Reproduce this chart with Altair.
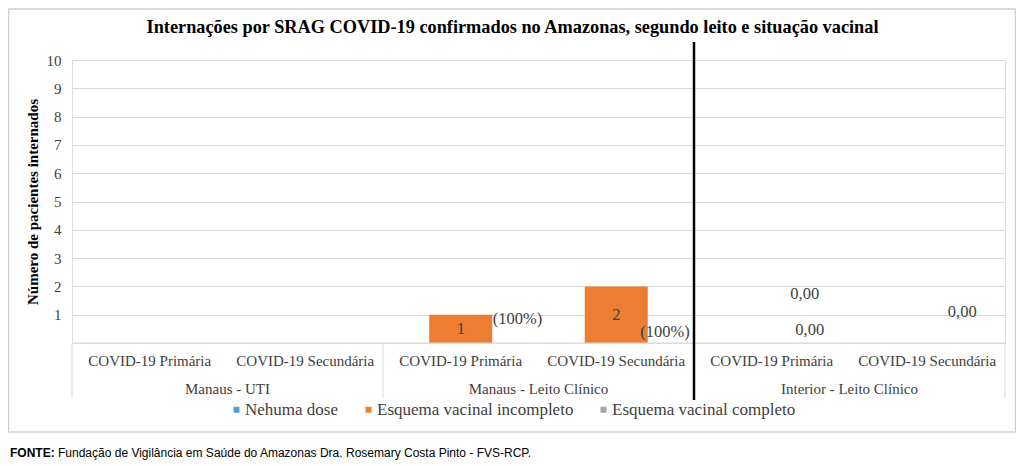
import altair as alt
import pandas as pd

# ---- data ----
groups = ["Manaus - UTI", "Manaus - UTI",
          "Manaus - Leito Clínico", "Manaus - Leito Clínico",
          "Interior - Leito Clínico", "Interior - Leito Clínico"]
subs = ["COVID-19 Primária", "COVID-19 Secundária"] * 3
series = ["Nehuma dose", "Esquema vacinal incompleto", "Esquema vacinal completo"]
nenhuma = [0, 0, 0, 0, 0, 0]
incompleto = [0, 0, 1, 2, 0, 0]
completo = [0, 0, 0, 0, 0, 0]
pct_labels = ["", "", "(100%)", "(100%)", "", ""]
zero_labels = ["0,00", "0,00", "0,00"]
y_ticks = [1, 2, 3, 4, 5, 6, 7, 8, 9, 10]
colors = ["#5B9BD5", "#ED7D31", "#A5A5A5"]
title_text = "Internações por SRAG COVID-19 confirmados no Amazonas, segundo leito e situação vacinal"
y_title = "Número de pacientes internados"
fonte_bold = "FONTE:"
fonte_text = "Fundação de Vigilância em Saúde do Amazonas Dra. Rosemary Costa Pinto - FVS-RCP."

# ---- tables ----
keys = [g + " | " + s for g, s in zip(groups, subs)]
cat_df = pd.DataFrame({"key": keys, "group": groups, "sub": subs,
                       "inc": incompleto, "pct": pct_labels})
rows = []
for i, k in enumerate(keys):
    for s, vals in zip(series, [nenhuma, incompleto, completo]):
        rows.append({"key": k, "series": s, "value": vals[i]})
bar_df = pd.DataFrame(rows)

W, H = 933, 283
SERIF = "Liberation Serif"
TXT = "#404040"
GRID = "#D9D9D9"

xscale = alt.Scale(domain=keys, paddingInner=0, paddingOuter=0)
yscale = alt.Scale(domain=[0, 10], nice=False)
yaxis = alt.Axis(values=y_ticks, grid=True, gridColor=GRID, domain=False,
                 ticks=False, labelFont=SERIF, labelFontSize=15,
                 labelColor=TXT, labelPadding=11, title=y_title,
                 titleFont=SERIF, titleFontSize=15, titleFontWeight="bold",
                 titleColor="#000000", titleX=-40, titleY=H / 2,
                 titleAngle=270, titleBaseline="middle", titleAlign="center")


def X(band=None):
    if band is None:
        return alt.X("key:N", scale=xscale, axis=None)
    return alt.X("key:N", scale=xscale, axis=None, bandPosition=band)


def Y(field):
    return alt.Y(field, scale=yscale, axis=yaxis, title=y_title)


bars = alt.Chart(bar_df).mark_bar(size=63).encode(
    x=X(),
    xOffset=alt.XOffset("series:N", scale=alt.Scale(domain=series)),
    y=Y("value:Q"),
    color=alt.Color("series:N", scale=alt.Scale(domain=series, range=colors),
                    legend=alt.Legend(orient="none", legendX=156, legendY=341,
                                      direction="horizontal", title=None,
                                      symbolType="square", symbolSize=36,
                                      symbolStrokeWidth=0, labelFont=SERIF,
                                      labelFontSize=17, labelColor=TXT,
                                      labelLimit=400,
                                      labelOffset=0, columnPadding=21, padding=0)),
)

# baseline of the category box
base_rule = alt.Chart(cat_df.head(1)).transform_calculate(zero="0").mark_rule(
    color=GRID, strokeWidth=1).encode(
    y=Y("zero:Q"), x=alt.value(0), x2=alt.value(W))

# separators of category groups
group_starts = cat_df[cat_df["sub"] == subs[0]]
sep = alt.Chart(group_starts).mark_rule(color=GRID, strokeWidth=1).encode(
    x=X(0), y=alt.value(H), y2=alt.value(H + 55))
sep_end = alt.Chart(cat_df.tail(1)).mark_rule(color=GRID, strokeWidth=1).encode(
    x=X(1), y=alt.value(H), y2=alt.value(H + 55))

# thick black divider
divider = alt.Chart(cat_df[cat_df["key"] == keys[4]]).mark_rule(
    color="#000000", strokeWidth=2.5).encode(
    x=X(0), y=alt.value(-18), y2=alt.value(H + 57))

sub_labels = alt.Chart(cat_df).mark_text(
    font=SERIF, fontSize=15, color=TXT, baseline="middle").encode(
    x=X(), y=alt.value(H + 18), text="sub:N")

group_labels = alt.Chart(cat_df[cat_df["sub"] == subs[1]]).mark_text(
    font=SERIF, fontSize=15, color=TXT, baseline="middle").encode(
    x=X(0), y=alt.value(H + 46), text="group:N")

val_labels = alt.Chart(cat_df[cat_df["inc"] > 0]).transform_calculate(
    mid="datum.inc / 2").mark_text(
    font=SERIF, fontSize=16.5, color=TXT, baseline="middle").encode(
    x=X(), y=Y("mid:Q"), text="inc:Q")

pct_offsets = [(32, 4), (24, 46)]
pct_layers = []
for k, (ddx, ddy) in zip([keys[2], keys[3]], pct_offsets):
    pct_layers.append(
        alt.Chart(cat_df[cat_df["key"] == k]).mark_text(
            font=SERIF, fontSize=16.5, color=TXT, align="left", baseline="middle",
            dx=ddx, dy=ddy).encode(
            x=X(), y=Y("inc:Q"), text="pct:N"))

zero_keys = [keys[4], keys[4], keys[5]]
zero_offsets = [(33, -49), (38, -13), (35, -31)]
zero_layers = []
for k, lab, (ddx, ddy) in zip(zero_keys, zero_labels, zero_offsets):
    zdf = cat_df[cat_df["key"] == k].assign(lab=lab)
    zero_layers.append(
        alt.Chart(zdf).mark_text(
            font=SERIF, fontSize=16.5, color=TXT, baseline="middle",
            dx=ddx, dy=ddy).encode(
            x=X(), y=Y("inc:Q"), text="lab:N"))

one = pd.DataFrame({"t": [title_text], "fb": [fonte_bold], "ft": [fonte_text]})

title = alt.Chart(one).mark_text(
    font=SERIF, fontSize=18.3, fontWeight="bold", color="#000000",
    baseline="alphabetic", align="center").encode(
    x=alt.value(440.5), y=alt.value(-27), text="t:N")

foot1 = alt.Chart(one).mark_text(
    font="Liberation Sans", fontSize=12, fontWeight="bold", color="#000000",
    baseline="alphabetic", align="left").encode(
    x=alt.value(-62), y=alt.value(397), text="fb:N")
foot2 = alt.Chart(one).mark_text(
    font="Liberation Sans", fontSize=12, color="#000000",
    baseline="alphabetic", align="left").encode(
    x=alt.value(-14), y=alt.value(397), text="ft:N")

frame = alt.Chart(one).mark_rect(fillOpacity=0, stroke="#D0D0D0", strokeWidth=1.5).encode(
    x=alt.value(-63.5), x2=alt.value(943.5), y=alt.value(-51), y2=alt.value(372))

chart = alt.layer(
    frame, bars, base_rule, sep, sep_end, divider, sub_labels, group_labels,
    val_labels, *pct_layers, *zero_layers, title, foot1, foot2
).properties(
    width=W, height=H,
    autosize=alt.AutoSizeParams(type="none"),
    padding={"left": 64, "top": 52, "right": 11, "bottom": 120},
).configure_view(stroke=None).configure(background="#ffffff").configure_legend(
    labelFont=SERIF, labelFontSize=17, labelLimit=400)

chart.save("out.html", embed_options={"renderer": "svg", "actions": False})
